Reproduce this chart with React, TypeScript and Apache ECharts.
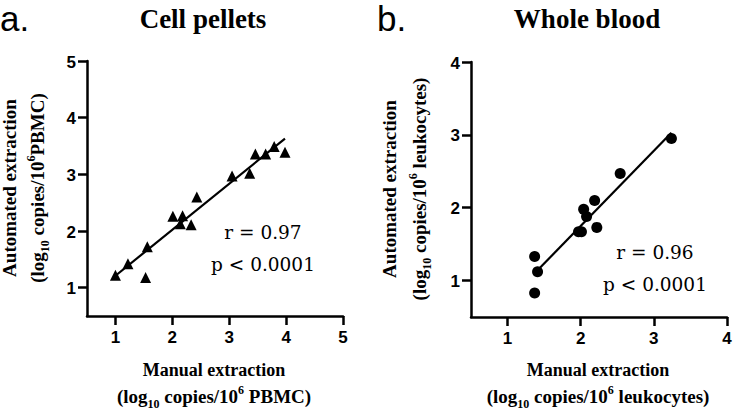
import React, { useEffect, useRef } from "react";
import * as echarts from "echarts";

// Panel a: Cell pellets (manual vs automated, log10 copies/10^6 PBMC)
const manualA = [1.0, 1.22, 1.53, 1.56, 2.01, 2.18, 2.14, 2.33, 2.43, 3.05, 3.36, 3.46, 3.64, 3.79, 3.98];
const autoA = [1.22, 1.42, 1.18, 1.72, 2.26, 2.27, 2.13, 2.11, 2.6, 2.97, 3.02, 3.36, 3.36, 3.49, 3.39];
const fitA = [[1.0, 1.21], [3.98, 3.63]];

// Panel b: Whole blood (log10 copies/10^6 leukocytes)
const manualB = [1.37, 1.41, 1.37, 1.97, 2.01, 2.04, 2.08, 2.19, 2.22, 2.54, 3.24];
const autoB = [1.33, 1.12, 0.83, 1.67, 1.67, 1.98, 1.88, 2.1, 1.73, 2.47, 2.95];
const fitB = [[1.37, 1.1], [3.24, 3.03]];

const ticksA = [1, 2, 3, 4, 5];
const ticksB = [1, 2, 3, 4];
const axisMin = 0.5;

const statsA = ["r = 0.97", "p < 0.0001"];
const statsB = ["r = 0.96", "p < 0.0001"];

const SERIF = "Liberation Serif";
const SANS = "Liberation Sans";
const STAT = "DejaVu Serif";

function axis(grid: number, max: number, ticks: number[]) {
  return {
    type: "value",
    gridIndex: grid,
    min: axisMin,
    max,
    interval: 0.5,
    axisLine: { show: true, onZero: false, lineStyle: { color: "#000", width: 2.5 } },
    axisTick: { show: true, customValues: ticks, length: 9, lineStyle: { color: "#000", width: 2.5 } },
    axisLabel: { show: false },
    splitLine: { show: false },
  };
}

const rich = (size: number) => ({
  m: { fontFamily: SERIF, fontWeight: "bold", fontSize: size, lineHeight: size + 2, fill: "#000", color: "#000" },
  sub: { fontFamily: SERIF, fontWeight: "bold", fontSize: 12, lineHeight: 12, verticalAlign: "bottom", padding: [0, 0, -3, 0], fill: "#000", color: "#000" },
  sup: { fontFamily: SERIF, fontWeight: "bold", fontSize: 12, lineHeight: 12, verticalAlign: "top", padding: [-2, 0, 0, 0], fill: "#000", color: "#000" },
});

function unitText(unit: string, space: boolean) {
  return `{m|(log}{sub|10}{m| copies/10}{sup|6}{m|${space ? " " : ""}${unit})}`;
}

function txt(x: number, y: number, text: string, font: any, extra: any = {}) {
  return {
    type: "text",
    x,
    y,
    rotation: extra.rotation || 0,
    silent: true,
    style: {
      text,
      fill: "#000",
      align: extra.align || "center",
      verticalAlign: "middle",
      textAlign: extra.align || "center",
      textVerticalAlign: "middle",
      ...font,
      ...(extra.rich ? { rich: extra.rich } : {}),
    },
  };
}

const TICKFONT = { fontFamily: SANS, fontWeight: "bold", fontSize: 17 };

export default function App() {
  const ref = useRef<HTMLDivElement>(null);
  useEffect(() => {
    if (!ref.current) return;
    const chart = echarts.init(ref.current, undefined, { renderer: "svg" });
    const R = Math.PI / 2;
    const option: any = {
      animation: false,
      grid: [
        { left: 87, top: 61, width: 256, height: 255 },
        { left: 471, top: 62, width: 256, height: 255 },
      ],
      xAxis: [axis(0, 5, ticksA), axis(1, 4, ticksB)],
      yAxis: [axis(0, 5, ticksA), axis(1, 4, ticksB)],
      series: [
        {
          type: "line",
          xAxisIndex: 0,
          yAxisIndex: 0,
          data: fitA,
          symbol: "none",
          lineStyle: { color: "#000", width: 2.2 },
          z: 1,
        },
        {
          type: "scatter",
          xAxisIndex: 0,
          yAxisIndex: 0,
          data: manualA.map((v, i) => [v, autoA[i]]),
          symbol: "triangle",
          symbolSize: 11,
          itemStyle: { color: "#000", opacity: 1 },
          z: 2,
        },
        {
          type: "line",
          xAxisIndex: 1,
          yAxisIndex: 1,
          data: fitB,
          symbol: "none",
          lineStyle: { color: "#000", width: 2.2 },
          z: 1,
        },
        {
          type: "scatter",
          xAxisIndex: 1,
          yAxisIndex: 1,
          data: manualB.map((v, i) => [v, autoB[i]]),
          symbol: "circle",
          symbolSize: 11,
          itemStyle: { color: "#000", opacity: 1 },
          z: 2,
        },
      ],
    };
    chart.setOption(option);

    // tick labels placed through the axes' own scales
    const tickLabels: any[] = [];
    const panels = [
      { grid: 0, ticks: ticksA },
      { grid: 1, ticks: ticksB },
    ];
    panels.forEach(({ grid, ticks }) => {
      ticks.forEach((t) => {
        const px = chart.convertToPixel({ gridIndex: grid }, [t, axisMin]) as number[];
        const py = chart.convertToPixel({ gridIndex: grid }, [axisMin, t]) as number[];
        if (px) tickLabels.push(txt(px[0], px[1] + 21, String(t), TICKFONT));
        if (py) tickLabels.push(txt(py[0] - 11, py[1] + 1, String(t), TICKFONT, { align: "right" }));
      });
    });

    chart.setOption({
      graphic: [
        ...tickLabels,
        txt(0, 18, "a.", { fontFamily: SANS, fontSize: 35 }, { align: "left" }),
        txt(377, 18, "b.", { fontFamily: SANS, fontSize: 35 }, { align: "left" }),
        txt(203, 19, "Cell pellets", { fontFamily: SERIF, fontWeight: "bold", fontSize: 27 }),
        txt(587, 19, "Whole blood", { fontFamily: SERIF, fontWeight: "bold", fontSize: 27 }),
        // axis titles panel a
        txt(214, 370, "Manual extraction", { fontFamily: SERIF, fontWeight: "bold", fontSize: 18 }),
        txt(214, 396, unitText("PBMC", true), { fontFamily: SERIF, fontWeight: "bold", fontSize: 19 }, { rich: rich(19) }),
        txt(9, 188, "Automated extraction", { fontFamily: SERIF, fontWeight: "bold", fontSize: 19 }, { rotation: R }),
        txt(37, 188, unitText("PBMC", false), { fontFamily: SERIF, fontWeight: "bold", fontSize: 19 }, { rotation: R, rich: rich(19) }),
        // axis titles panel b
        txt(598, 370, "Manual extraction", { fontFamily: SERIF, fontWeight: "bold", fontSize: 18 }),
        txt(598, 396, unitText("leukocytes", true), { fontFamily: SERIF, fontWeight: "bold", fontSize: 19 }, { rich: rich(19) }),
        txt(389, 189, "Automated extraction", { fontFamily: SERIF, fontWeight: "bold", fontSize: 19 }, { rotation: R }),
        txt(419, 189, unitText("leukocytes", true), { fontFamily: SERIF, fontWeight: "bold", fontSize: 19 }, { rotation: R, rich: rich(19) }),
        // stats
        txt(263, 232, statsA[0], { fontFamily: STAT, fontSize: 18.5 }),
        txt(263, 264, statsA[1], { fontFamily: STAT, fontSize: 18.5 }),
        txt(655, 252, statsB[0], { fontFamily: STAT, fontSize: 18.5 }),
        txt(655, 284, statsB[1], { fontFamily: STAT, fontSize: 18.5 }),
      ],
    });
    return () => chart.dispose();
  }, []);
  return (
    <div
      ref={ref}
      style={{ position: "absolute", left: 0, top: 0, width: 733, height: 409, background: "#fff" }}
    />
  );
}
